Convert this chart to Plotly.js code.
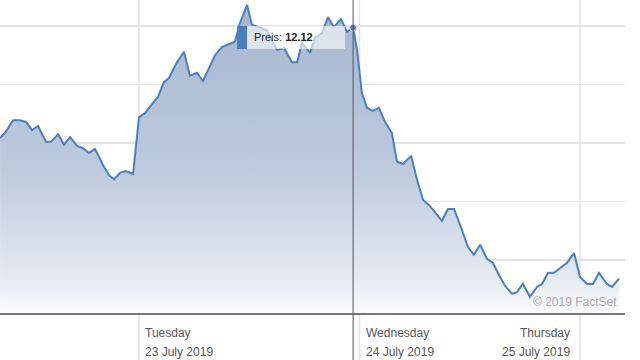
<!DOCTYPE html>
<html>
<head>
<meta charset="utf-8">
<script src="https://cdn.plot.ly/plotly-3.0.1.min.js"></script>
<style>html,body{margin:0;padding:0;background:#fff;}#chart{width:640px;height:360px;}</style>
</head>
<body>
<div id="chart"></div>
<script>
// x: trading-day position (1 = start of Tuesday 23 July 2019 session)
var dayPos = [0.370,0.392,0.429,0.460,0.488,0.515,0.542,0.578,0.601,0.633,0.660,0.687,0.719,0.746,0.773,0.800,0.814,0.837,0.864,0.887,0.914,0.937,0.955,0.973,1.000,1.027,1.050,1.086,1.113,1.136,1.172,1.204,1.231,1.263,1.290,1.313,1.345,1.376,1.408,1.435,1.458,1.490,1.512,1.549,1.580,1.626,1.658,1.694,1.717,1.739,1.776,1.798,1.830,1.857,1.884,1.916,1.943,1.971,1.989,2.011,2.034,2.061,2.088,2.116,2.147,2.170,2.197,2.234,2.261,2.288,2.320,2.342,2.374,2.401,2.429,2.460,2.492,2.519,2.547,2.578,2.605,2.633,2.660,2.692,2.714,2.741,2.773,2.805,2.828,2.855,2.882,2.909,2.941,2.973,3.000,3.032,3.059,3.086,3.122,3.145,3.177];
var price = [11.929,11.937,11.959,11.959,11.956,11.942,11.949,11.922,11.922,11.935,11.917,11.930,11.915,11.911,11.903,11.910,11.900,11.882,11.865,11.858,11.869,11.872,11.870,11.867,11.964,11.971,11.982,11.999,12.024,12.031,12.058,12.076,12.035,12.040,12.026,12.045,12.070,12.084,12.089,12.093,12.125,12.156,12.122,12.117,12.113,12.079,12.082,12.058,12.058,12.091,12.074,12.100,12.108,12.135,12.118,12.132,12.110,12.117,12.079,12.005,11.980,11.975,11.980,11.956,11.937,11.888,11.884,11.898,11.857,11.823,11.812,11.802,11.787,11.807,11.807,11.776,11.742,11.729,11.746,11.722,11.715,11.694,11.676,11.662,11.665,11.679,11.657,11.674,11.679,11.698,11.698,11.706,11.715,11.732,11.691,11.679,11.679,11.698,11.679,11.674,11.688];
var hoverIndex = 57;
var dayTicks = [1, 2, 3];
var dayNames = ["Tuesday", "Wednesday", "Thursday"];
var dayDates = ["23 July 2019", "24 July 2019", "25 July 2019"];
var gridValues = [11.72, 11.82, 11.92, 12.02, 12.12];
var tooltipLabel = "Preis:";
var credit = "\u00a9 2019 FactSet";

var yMin = 11.6294, yMax = 12.1644;
var lineColor = "#4a7fc1";

var traces = [
  {
    x: dayPos, y: price, type: "scatter", mode: "lines",
    line: {color: lineColor, width: 2},
    fill: "tozeroy",
    fillgradient: {type: "vertical", start: yMin, stop: yMax,
      colorscale: [[0, "rgb(250,251,253)"], [0.12, "rgb(228,233,242)"], [0.45, "rgb(190,202,221)"], [1, "rgb(165,182,207)"]]},
    hoverinfo: "skip"
  },
  {
    x: [dayPos[hoverIndex]], y: [price[hoverIndex]], type: "scatter", mode: "markers",
    marker: {color: lineColor, size: 7, line: {color: "#dfe7f2", width: 1}},
    hoverinfo: "skip"
  }
];

var shapes = [];
dayTicks.forEach(function (d) {
  shapes.push({type: "line", xref: "x", yref: "paper", x0: d, x1: d, y0: -0.16, y1: 1,
    line: {color: "#e3e3e3", width: 1.5}, layer: "below"});
});
// crosshair
shapes.push({type: "line", xref: "x", yref: "paper", x0: dayPos[hoverIndex], x1: dayPos[hoverIndex], y0: -0.16, y1: 1,
  line: {color: "#555", width: 1}, layer: "above"});
// tooltip box
shapes.push({type: "rect", xref: "paper", yref: "paper", x0: 0.3792, x1: 0.552, y0: 0.8435, y1: 0.9169,
  fillcolor: "rgba(255,255,255,0.6)", line: {width: 0}, layer: "above"});
shapes.push({type: "rect", xref: "paper", yref: "paper", x0: 0.3792, x1: 0.3952, y0: 0.8435, y1: 0.9169,
  fillcolor: "#4a7fba", line: {width: 0}, layer: "above"});

var annotations = [];
dayTicks.forEach(function (d, i) {
  var right = i === dayTicks.length - 1;
  annotations.push({x: d, xref: "x", y: -0.063, yref: "paper", text: dayNames[i], showarrow: false,
    xanchor: right ? "right" : "left", yanchor: "middle", xshift: right ? -8 : 4,
    font: {family: "Liberation Sans, Arial, sans-serif", size: 12, color: "#555"}});
  annotations.push({x: d, xref: "x", y: -0.124, yref: "paper", text: dayDates[i], showarrow: false,
    xanchor: right ? "right" : "left", yanchor: "middle", xshift: right ? -8 : 4,
    font: {family: "Liberation Sans, Arial, sans-serif", size: 12, color: "#555"}});
});
annotations.push({x: 0.4032, xref: "paper", y: 0.8818, yref: "paper",
  text: tooltipLabel + " <b>" + price[hoverIndex].toFixed(2) + "</b>", showarrow: false,
  xanchor: "left", yanchor: "middle",
  font: {family: "Liberation Sans, Arial, sans-serif", size: 11, color: "#222"}});
annotations.push({x: 0.9904, xref: "paper", y: 0.035, yref: "paper", text: credit, showarrow: false,
  xanchor: "right", yanchor: "middle",
  font: {family: "Liberation Sans, Arial, sans-serif", size: 12, color: "#aaa"}});

var layout = {
  width: 640, height: 360,
  margin: {l: 0, r: 15, t: 0, b: 47, pad: 0},
  paper_bgcolor: "#fff", plot_bgcolor: "#fff",
  showlegend: false,
  xaxis: {range: [0.3696, 3.2041], showgrid: false, zeroline: false, showticklabels: false,
    ticks: "", showline: true, linecolor: "#777", linewidth: 1.5, fixedrange: true},
  yaxis: {range: [yMin, yMax], tickmode: "array", tickvals: gridValues, showticklabels: false,
    ticks: "", showgrid: true, gridcolor: "#e3e3e3", gridwidth: 1.5, zeroline: false, showline: false, fixedrange: true},
  shapes: shapes,
  annotations: annotations
};

Plotly.newPlot("chart", traces, layout, {displayModeBar: false, staticPlot: true});
</script>
</body>
</html>
